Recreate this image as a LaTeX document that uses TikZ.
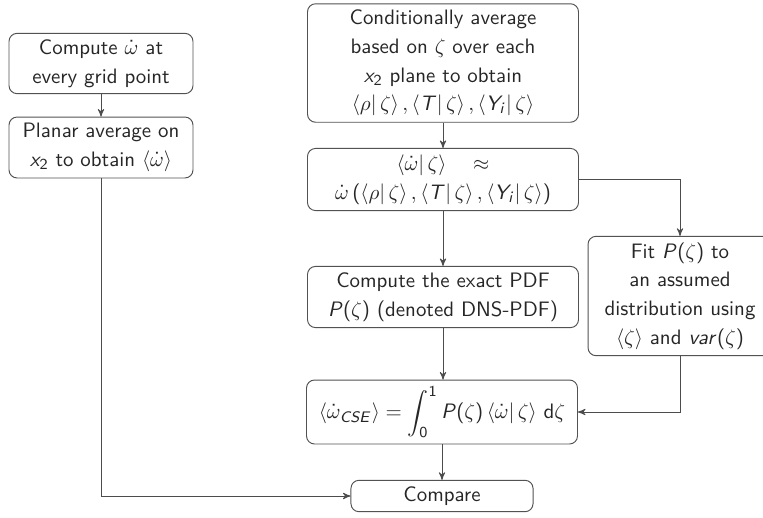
\documentclass[tikz,border=0pt]{standalone}
\usepackage{amsmath}
\renewcommand{\familydefault}{\sfdefault}
% sans-serif math letters, as in a beamer talk
\DeclareSymbolFont{operators}{OT1}{cmss}{m}{n}
\DeclareSymbolFont{sfitalic}{OT1}{cmss}{m}{sl}
\DeclareMathSymbol{x}{\mathalpha}{sfitalic}{`x}
\DeclareMathSymbol{i}{\mathalpha}{sfitalic}{`i}
\DeclareMathSymbol{v}{\mathalpha}{sfitalic}{`v}
\DeclareMathSymbol{a}{\mathalpha}{sfitalic}{`a}
\DeclareMathSymbol{r}{\mathalpha}{sfitalic}{`r}
\DeclareMathSymbol{P}{\mathalpha}{sfitalic}{`P}
\DeclareMathSymbol{T}{\mathalpha}{sfitalic}{`T}
\DeclareMathSymbol{Y}{\mathalpha}{sfitalic}{`Y}
\DeclareMathSymbol{C}{\mathalpha}{sfitalic}{`C}
\DeclareMathSymbol{S}{\mathalpha}{sfitalic}{`S}
\DeclareMathSymbol{E}{\mathalpha}{sfitalic}{`E}
\usepackage{tikz}
\usetikzlibrary{arrows}

\newcommand{\cavg}[1]{\left\langle #1\middle|\,\zeta\right\rangle}
\newcommand{\flowfont}{\fontsize{10.95}{15}\selectfont}

\begin{document}
\begin{tikzpicture}[x=0.524pt,y=-0.524pt,>=stealth',
  box/.style={draw=black!68,line width=0.5pt,rounded corners=4.2pt,align=center,inner xsep=2pt,inner ysep=3.3pt,text=black!85,font=\flowfont},
  side box/.style={box,minimum width=96.4pt},
  mid box/.style={box,minimum width=142pt},
  link/.style={->,draw=black!70,line width=0.5pt}]

  \useasboundingbox (0,0) rectangle (763,517);

  \node[side box] (grid) at (101,63.5) {Compute $\dot\omega$ at\\ every grid point};
  \node[side box] (planar) at (101,147.5) {Planar average on\\ $x_2$ to obtain $\langle\dot\omega\rangle$};

  \node[mid box] (cond) at (443,63) {Conditionally average\\ based on $\zeta$ over each\\ $x_2$ plane to obtain\\ $\cavg{\rho},\cavg{T},\cavg{Y_i}$};
  \node[mid box] (rate) at (443,179.5) {$\cavg{\dot\omega}\quad\approx$\\ $\dot\omega\left(\cavg{\rho},\cavg{T},\cavg{Y_i}\right)$};
  \node[mid box] (pdf) at (443,297) {Compute the exact PDF\\ $P(\zeta)$ (denoted DNS-PDF)};
  \node[side box] (fit) at (680,296) {Fit $P(\zeta)$ to\\ an assumed\\ distribution using\\ $\langle\zeta\rangle$ and $var(\zeta)$};
  \node[mid box] (cse) at (442,412) {$\langle\dot\omega_{CSE}\rangle=\displaystyle\int_0^1 P(\zeta)\cavg{\dot\omega}\,\mathrm{d}\zeta$};
  \node[box,minimum width=95.4pt] (cmp) at (442,496) {Compare};

  \draw[link] (grid) -- (planar);
  \draw[link] (planar) |- (cmp);
  \draw[link] (cond) -- (rate);
  \draw[link] (rate) -- (rate |- pdf.north);
  \draw[link] (rate) -| (fit);
  \draw[link] (pdf) -- (pdf |- cse.north);
  \draw[link] (fit) |- (cse);
  \draw[link] (cse) -- (cmp);

\end{tikzpicture}
\end{document}
